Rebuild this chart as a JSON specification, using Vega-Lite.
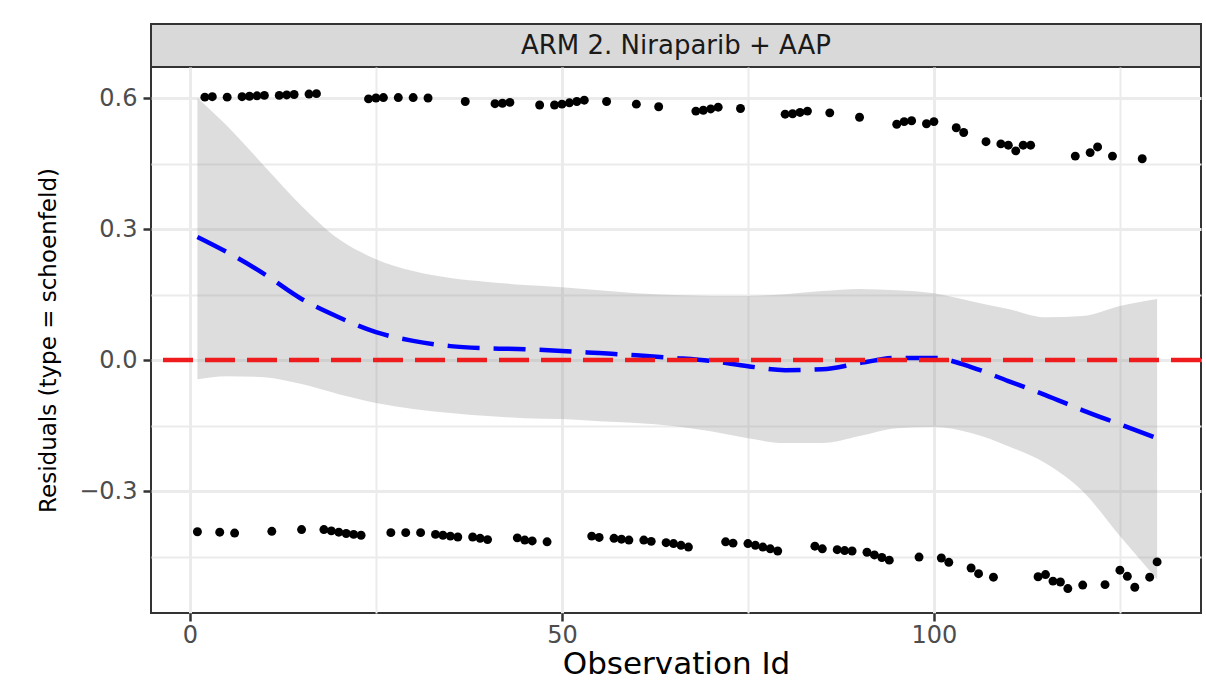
{
  "$schema": "https://vega.github.io/schema/vega-lite/v6.json",
  "background": "white",
  "padding": {"left": 36, "top": 23, "right": 2, "bottom": 10},
  "bounds": "flush",
  "spacing": 0,
  "config": {"font": "DejaVu Sans"},
  "datasets": {
    "pts": [
      {"id":1,"res":-0.393},{"id":2,"res":0.602},{"id":3,"res":0.603},{"id":4,"res":-0.394},{"id":5,"res":0.602},
      {"id":6,"res":-0.396},{"id":7,"res":0.603},{"id":8,"res":0.604},{"id":9,"res":0.605},{"id":10,"res":0.606},
      {"id":11,"res":-0.392},{"id":12,"res":0.606},{"id":13,"res":0.607},{"id":14,"res":0.608},{"id":15,"res":-0.388},
      {"id":16,"res":0.609},{"id":17,"res":0.610},{"id":18,"res":-0.388},{"id":19,"res":-0.391},{"id":20,"res":-0.394},
      {"id":21,"res":-0.397},{"id":22,"res":-0.399},{"id":23,"res":-0.401},{"id":24,"res":0.598},{"id":25,"res":0.600},
      {"id":26,"res":0.601},{"id":27,"res":-0.395},{"id":28,"res":0.601},{"id":29,"res":-0.395},{"id":30,"res":0.601},
      {"id":31,"res":-0.395},{"id":32,"res":0.600},{"id":33,"res":-0.399},{"id":34,"res":-0.401},{"id":35,"res":-0.403},
      {"id":36,"res":-0.405},{"id":37,"res":0.592},{"id":38,"res":-0.405},{"id":39,"res":-0.408},{"id":40,"res":-0.411},
      {"id":41,"res":0.587},{"id":42,"res":0.588},{"id":43,"res":0.590},{"id":44,"res":-0.407},{"id":45,"res":-0.412},
      {"id":46,"res":-0.414},{"id":47,"res":0.584},{"id":48,"res":-0.416},{"id":49,"res":0.584},{"id":50,"res":0.586},
      {"id":51,"res":0.589},{"id":52,"res":0.592},{"id":53,"res":0.595},{"id":54,"res":-0.403},{"id":55,"res":-0.406},
      {"id":56,"res":0.592},{"id":57,"res":-0.408},{"id":58,"res":-0.410},{"id":59,"res":-0.412},{"id":60,"res":0.586},
      {"id":61,"res":-0.412},{"id":62,"res":-0.415},{"id":63,"res":0.580},{"id":64,"res":-0.418},{"id":65,"res":-0.420},
      {"id":66,"res":-0.424},{"id":67,"res":-0.428},{"id":68,"res":0.570},{"id":69,"res":0.572},{"id":70,"res":0.575},
      {"id":71,"res":0.579},{"id":72,"res":-0.416},{"id":73,"res":-0.419},{"id":74,"res":0.576},{"id":75,"res":-0.420},
      {"id":76,"res":-0.424},{"id":77,"res":-0.428},{"id":78,"res":-0.432},{"id":79,"res":-0.437},{"id":80,"res":0.563},
      {"id":81,"res":0.564},{"id":82,"res":0.567},{"id":83,"res":0.570},{"id":84,"res":-0.426},{"id":85,"res":-0.432},
      {"id":86,"res":0.566},{"id":87,"res":-0.434},{"id":88,"res":-0.436},{"id":89,"res":-0.437},{"id":90,"res":0.556},
      {"id":91,"res":-0.440},{"id":92,"res":-0.446},{"id":93,"res":-0.452},{"id":94,"res":-0.458},{"id":95,"res":0.540},
      {"id":96,"res":0.546},{"id":97,"res":0.548},{"id":98,"res":-0.451},{"id":99,"res":0.541},{"id":100,"res":0.546},
      {"id":101,"res":-0.453},{"id":102,"res":-0.463},{"id":103,"res":0.532},{"id":104,"res":0.521},{"id":105,"res":-0.476},
      {"id":106,"res":-0.489},{"id":107,"res":0.500},{"id":108,"res":-0.497},{"id":109,"res":0.495},{"id":110,"res":0.492},
      {"id":111,"res":0.479},{"id":112,"res":0.492},{"id":113,"res":0.492},{"id":114,"res":-0.496},{"id":115,"res":-0.491},
      {"id":116,"res":-0.506},{"id":117,"res":-0.508},{"id":118,"res":-0.523},{"id":119,"res":0.467},{"id":120,"res":-0.515},
      {"id":121,"res":0.475},{"id":122,"res":0.488},{"id":123,"res":-0.514},{"id":124,"res":0.467},{"id":125,"res":-0.481},
      {"id":126,"res":-0.495},{"id":127,"res":-0.520},{"id":128,"res":0.461},{"id":129,"res":-0.497},{"id":130,"res":-0.462}
    ],
    "fit": [
      {"id":1,"fit":0.282,"lo":-0.044,"hi":0.600},
      {"id":5,"fit":0.247,"lo":-0.037,"hi":0.536},
      {"id":10,"fit":0.197,"lo":-0.039,"hi":0.444},
      {"id":15,"fit":0.140,"lo":-0.055,"hi":0.353},
      {"id":20,"fit":0.098,"lo":-0.078,"hi":0.277},
      {"id":25,"fit":0.064,"lo":-0.098,"hi":0.231},
      {"id":30,"fit":0.044,"lo":-0.112,"hi":0.204},
      {"id":35,"fit":0.032,"lo":-0.121,"hi":0.188},
      {"id":40,"fit":0.027,"lo":-0.128,"hi":0.179},
      {"id":45,"fit":0.025,"lo":-0.133,"hi":0.172},
      {"id":50,"fit":0.021,"lo":-0.135,"hi":0.167},
      {"id":55,"fit":0.016,"lo":-0.140,"hi":0.160},
      {"id":60,"fit":0.011,"lo":-0.144,"hi":0.153},
      {"id":65,"fit":0.005,"lo":-0.151,"hi":0.149},
      {"id":70,"fit":-0.002,"lo":-0.163,"hi":0.147},
      {"id":75,"fit":-0.014,"lo":-0.179,"hi":0.147},
      {"id":80,"fit":-0.023,"lo":-0.190,"hi":0.151},
      {"id":85,"fit":-0.021,"lo":-0.190,"hi":0.158},
      {"id":90,"fit":-0.007,"lo":-0.174,"hi":0.163},
      {"id":95,"fit":0.005,"lo":-0.156,"hi":0.160},
      {"id":100,"fit":0.005,"lo":-0.153,"hi":0.153},
      {"id":105,"fit":-0.016,"lo":-0.167,"hi":0.135},
      {"id":110,"fit":-0.048,"lo":-0.197,"hi":0.117},
      {"id":115,"fit":-0.080,"lo":-0.236,"hi":0.098},
      {"id":120,"fit":-0.115,"lo":-0.300,"hi":0.101},
      {"id":125,"fit":-0.147,"lo":-0.403,"hi":0.124},
      {"id":130,"fit":-0.179,"lo":-0.502,"hi":0.140}
    ],
    "strip": [{"label": "ARM 2. Niraparib + AAP"}]
  },
  "vconcat": [
    {
      "width": 1050,
      "height": 43,
      "view": {"fill": "#d9d9d9", "stroke": "#333333", "strokeWidth": 2},
      "data": {"name": "strip"},
      "mark": {"type": "text", "font": "DejaVu Sans", "fontSize": 26, "color": "#1a1a1a", "baseline": "middle", "align": "center"},
      "encoding": {"text": {"field": "label"}}
    },
    {
      "width": 1050,
      "height": 546,
      "view": {"stroke": "#333333", "strokeWidth": 2},
      "layer": [
        {
          "data": {"name": "fit"},
          "mark": {"type": "area", "interpolate": "monotone", "color": "#999999", "opacity": 0.33},
          "encoding": {
            "x": {"field": "id", "type": "quantitative", "title": "Observation Id",
              "scale": {"domain": [-5.24, 135.9], "nice": false, "zero": false},
              "axis": {
                "values": [0, 25, 50, 75, 100, 125],
                "labelExpr": "datum.value % 50 === 0 ? datum.label : ''",
                "gridColor": "#ebebeb",
                "gridWidth": {"condition": {"test": "datum.value % 50 === 0", "value": 3}, "value": 2},
                "tickOpacity": {"condition": {"test": "datum.value % 50 === 0", "value": 1}, "value": 0},
                "domain": false, "tickSize": 8, "tickWidth": 2.5, "tickColor": "#333333",
                "labelFont": "DejaVu Sans", "labelFontSize": 24, "labelColor": "#4d4d4d", "labelPadding": 2,
                "titleFont": "DejaVu Sans", "titleFontSize": 31, "titleFontWeight": "normal", "titleColor": "#000000", "titlePadding": 2
              }
            },
            "y": {"field": "lo", "type": "quantitative", "title": "Residuals (type = schoenfeld)",
              "scale": {"domain": [-0.579, 0.671], "nice": false, "zero": false},
              "axis": {
                "values": [-0.45, -0.3, -0.15, 0, 0.15, 0.3, 0.45, 0.6],
                "format": ".1f",
                "labelExpr": "abs(round(datum.value*100)) % 30 === 0 ? datum.label : ''",
                "gridColor": "#ebebeb",
                "gridWidth": {"condition": {"test": "abs(round(datum.value*100)) % 30 === 0", "value": 3}, "value": 2},
                "tickOpacity": {"condition": {"test": "abs(round(datum.value*100)) % 30 === 0", "value": 1}, "value": 0},
                "domain": false, "tickSize": 8, "tickWidth": 2.5, "tickColor": "#333333",
                "labelFont": "DejaVu Sans", "labelFontSize": 24, "labelColor": "#4d4d4d", "labelPadding": 6,
                "titleFont": "DejaVu Sans", "titleFontSize": 23, "titleFontWeight": "normal", "titleColor": "#000000", "titlePadding": 18
              }
            },
            "y2": {"field": "hi"}
          }
        },
        {
          "data": {"name": "pts"},
          "mark": {"type": "circle", "color": "#000000", "opacity": 1, "size": 80},
          "encoding": {
            "x": {"field": "id", "type": "quantitative", "title": "Observation Id"},
            "y": {"field": "res", "type": "quantitative", "title": "Residuals (type = schoenfeld)"}
          }
        },
        {
          "data": {"name": "fit"},
          "mark": {"type": "line", "interpolate": "monotone", "color": "#0000ff", "strokeWidth": 4.5, "strokeDash": [32, 14]},
          "encoding": {
            "x": {"field": "id", "type": "quantitative", "title": "Observation Id"},
            "y": {"field": "fit", "type": "quantitative", "title": "Residuals (type = schoenfeld)"}
          }
        },
        {
          "data": {"name": "strip"},
          "mark": {"type": "rule", "color": "#ee1c1c", "strokeWidth": 4.5, "strokeDash": [30, 12]},
          "encoding": {"y": {"datum": 0}}
        }
      ]
    }
  ]
}
